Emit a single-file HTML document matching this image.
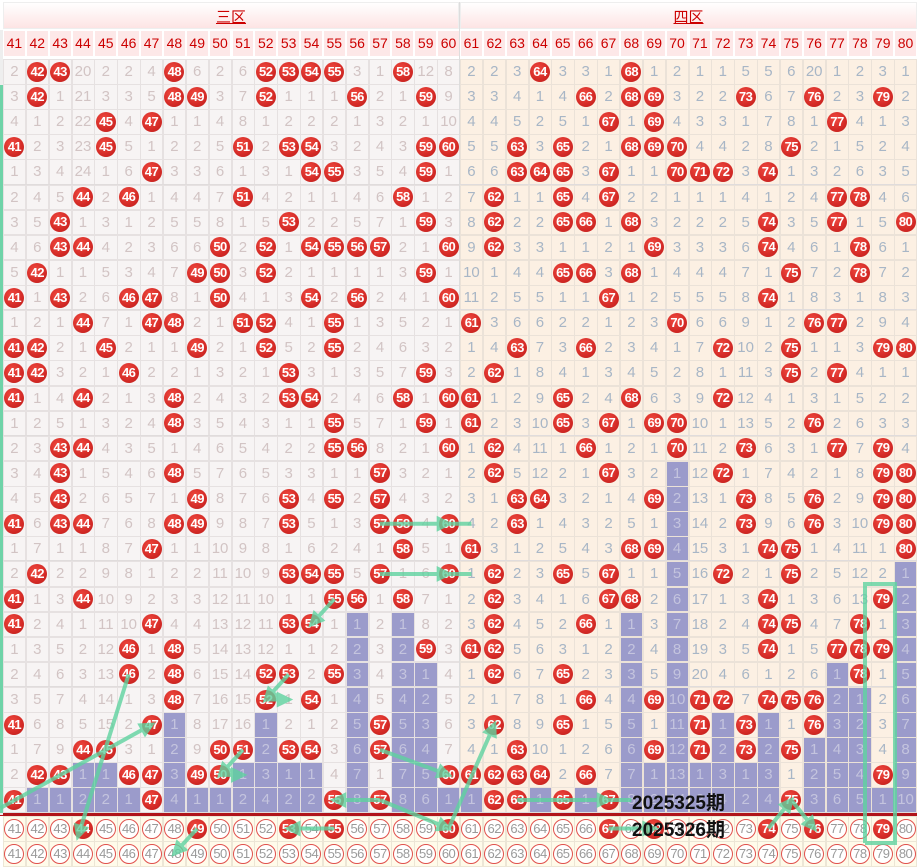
<!DOCTYPE html>
<html><head><meta charset="utf-8">
<style>
body{margin:0;width:917px;height:868px;overflow:hidden;background:#fff;font-family:"Liberation Sans","Noto Sans CJK SC",sans-serif;position:relative}
.c{position:absolute;box-sizing:border-box;text-align:center;}
.b{position:absolute;width:20px;height:20px;border-radius:50%;background:radial-gradient(circle at 40% 35%,#f04a40,#d42a26 60%,#b81c1a);color:#fff;font-weight:bold;font-size:13px;line-height:20px;text-align:center;letter-spacing:-0.5px}
.o{position:absolute;width:20px;height:20px;border-radius:50%;border:1.5px solid #e0504c;box-sizing:border-box;background:#fff;color:#9a9a9a;font-size:13px;line-height:17px;text-align:center;letter-spacing:-0.5px}
</style></head><body>
<div id="g"></div>
<svg id="s" width="917" height="868" style="position:absolute;left:0;top:0"></svg>
<div style="position:absolute;left:632px;top:788px;font:bold 19px 'Liberation Sans','Noto Sans CJK SC',sans-serif;color:#111">2025325期</div>
<div style="position:absolute;left:632px;top:815px;font:bold 19px 'Liberation Sans','Noto Sans CJK SC',sans-serif;color:#111">2025326期</div>
<script>
var D=[
"2 42 43 20 2 2 4 48 6 2 6 52 53 54 55 3 1 58 12 8 2 2 3 64 3 3 1 68 1 2 1 1 5 5 6 20 1 2 3 1",
"3 42 1 21 3 3 5 48 49 3 7 52 1 1 1 56 2 1 59 9 3 3 4 1 4 66 2 68 69 3 2 2 73 6 7 76 2 3 79 2",
"4 1 2 22 45 4 47 1 1 4 8 1 2 2 2 1 3 2 1 10 4 4 5 2 5 1 67 1 69 4 3 3 1 7 8 1 77 4 1 3",
"41 2 3 23 45 5 1 2 2 5 51 2 53 54 3 2 4 3 59 60 5 5 63 3 65 2 1 68 69 70 4 4 2 8 75 2 1 5 2 4",
"1 3 4 24 1 6 47 3 3 6 1 3 1 54 55 3 5 4 59 1 6 6 63 64 65 3 67 1 1 70 71 72 3 74 1 3 2 6 3 5",
"2 4 5 44 2 46 1 4 4 7 51 4 2 1 1 4 6 58 1 2 7 62 1 1 65 4 67 2 2 1 1 1 4 1 2 4 77 78 4 6",
"3 5 43 1 3 1 2 5 5 8 1 5 53 2 2 5 7 1 59 3 8 62 2 2 65 66 1 68 3 2 2 2 5 74 3 5 77 1 5 80",
"4 6 43 44 4 2 3 6 6 50 2 52 1 54 55 56 57 2 1 60 9 62 3 3 1 1 2 1 69 3 3 3 6 74 4 6 1 78 6 1",
"5 42 1 1 5 3 4 7 49 50 3 52 2 1 1 1 1 3 59 1 10 1 4 4 65 66 3 68 1 4 4 4 7 1 75 7 2 78 7 2",
"41 1 43 2 6 46 47 8 1 50 4 1 3 54 2 56 2 4 1 60 11 2 5 5 1 1 67 1 2 5 5 5 8 74 1 8 3 1 8 3",
"1 2 1 44 7 1 47 48 2 1 51 52 4 1 55 1 3 5 2 1 61 3 6 6 2 2 1 2 3 70 6 6 9 1 2 76 77 2 9 4",
"41 42 2 1 45 2 1 1 49 2 1 52 5 2 55 2 4 6 3 2 1 4 63 7 3 66 2 3 4 1 7 72 10 2 75 1 1 3 79 80",
"41 42 3 2 1 46 2 2 1 3 2 1 53 3 1 3 5 7 59 3 2 62 1 8 4 1 3 4 5 2 8 1 11 3 75 2 77 4 1 1",
"41 1 4 44 2 1 3 48 2 4 3 2 53 54 2 4 6 58 1 60 61 1 2 9 65 2 4 68 6 3 9 72 12 4 1 3 1 5 2 2",
"1 2 5 1 3 2 4 48 3 5 4 3 1 1 55 5 7 1 59 1 61 2 3 10 65 3 67 1 69 70 10 1 13 5 2 76 2 6 3 3",
"2 3 43 44 4 3 5 1 4 6 5 4 2 2 55 56 8 2 1 60 1 62 4 11 1 66 1 2 1 70 11 2 73 6 3 1 77 7 79 4",
"3 4 43 1 5 4 6 48 5 7 6 5 3 3 1 1 57 3 2 1 2 62 5 12 2 1 67 3 2 1 12 72 1 7 4 2 1 8 79 80",
"4 5 43 2 6 5 7 1 49 8 7 6 53 4 55 2 57 4 3 2 3 1 63 64 3 2 1 4 69 2 13 1 73 8 5 76 2 9 79 80",
"41 6 43 44 7 6 8 48 49 9 8 7 53 5 1 3 57 58 4 60 4 2 63 1 4 3 2 5 1 3 14 2 73 9 6 76 3 10 79 80",
"1 7 1 1 8 7 47 1 1 10 9 8 1 6 2 4 1 58 5 1 61 3 1 2 5 4 3 68 69 4 15 3 1 74 75 1 4 11 1 80",
"2 42 2 2 9 8 1 2 2 11 10 9 53 54 55 5 57 1 6 60 1 62 2 3 65 5 67 1 1 5 16 72 2 1 75 2 5 12 2 1",
"41 1 3 44 10 9 2 3 3 12 11 10 1 1 55 56 1 58 7 1 2 62 3 4 1 6 67 68 2 6 17 1 3 74 1 3 6 13 79 2",
"41 2 4 1 11 10 47 4 4 13 12 11 53 54 1 1 2 1 8 2 3 62 4 5 2 66 1 1 3 7 18 2 4 74 75 4 7 78 1 3",
"1 3 5 2 12 46 1 48 5 14 13 12 1 1 2 2 3 2 59 3 61 62 5 6 3 1 2 2 4 8 19 3 5 74 1 5 77 78 79 4",
"2 4 6 3 13 46 2 48 6 15 14 52 53 2 55 3 4 3 1 4 1 62 6 7 65 2 3 3 5 9 20 4 6 1 2 6 1 78 1 5",
"3 5 7 4 14 1 3 48 7 16 15 52 1 54 1 4 5 4 2 5 2 1 7 8 1 66 4 4 69 10 71 72 7 74 75 76 2 1 2 6",
"41 6 8 5 15 2 47 1 8 17 16 1 2 1 2 5 57 5 3 6 3 62 8 9 65 1 5 5 1 11 71 1 73 1 1 76 3 2 3 7",
"1 7 9 44 45 3 1 2 9 50 51 2 53 54 3 6 57 6 4 7 4 1 63 10 1 2 6 6 69 12 71 2 73 2 75 1 4 3 4 8",
"2 42 43 1 1 46 47 3 49 50 1 3 1 1 4 7 1 7 5 60 61 62 63 64 2 66 7 7 1 13 1 3 1 3 1 2 5 4 79 9",
"41 1 1 2 2 1 47 4 1 1 2 4 2 2 55 8 57 8 6 1 1 62 63 1 65 1 67 8 2 14 2 4 2 4 75 3 6 5 1 10"];
var W=22.85,X0=3,Y0=59,H=25.12,h='';
function cx(n){return X0+(n-41)*W+W/2}
function cy(r){return Y0+r*H+H/2}
var rows=D.map(function(s){return s.split(' ')});
var pur=[];for(var r=0;r<30;r++)pur.push([]);
for(var c=0;c<40;c++){for(var r=29;r>=0;r--){if(+rows[r][c]==c+41)break;pur[r][c]=1;}}
// header row 0
h+='<div class="c" style="left:3px;top:2px;width:456px;height:27px;background:linear-gradient(#fff,#fde4e4);border:1px solid #eee"></div>';
h+='<div class="c" style="left:460px;top:2px;width:457px;height:27px;background:linear-gradient(#fff,#fde4e4);border:1px solid #eee"></div>';
h+='<div class="c" style="left:3px;top:6px;width:456px;font-size:15px;color:#c00"><u>三区</u></div>';
h+='<div class="c" style="left:460px;top:6px;width:457px;font-size:15px;color:#c00"><u>四区</u></div>';
for(var c=0;c<40;c++){var x=X0+c*W;
 h+='<div class="c" style="left:'+(x+1)+'px;top:31px;width:'+(W-2)+'px;height:25px;background:#fde8e8;color:#c00;font-size:14px;line-height:25px">'+(c+41)+'</div>';}
for(var r=0;r<30;r++){var y=Y0+r*H;
 for(var c=0;c<40;c++){var x=X0+c*W,v=rows[r][c],n=c+41,R=c>=20;
  var bg=pur[r][c]?'#9b9bcb':(R?'#fcf0e3':'#f7f4f4');
  h+='<div class="c" style="left:'+x+'px;top:'+y+'px;width:'+(W+0.5)+'px;height:'+(H+0.5)+'px;background:'+bg+';border:1px solid '+(R?'#ebe2d8':'#e6e1e1')+'"></div>';
  if(+v==n) h+='<div class="b" style="left:'+(cx(n)-10)+'px;top:'+(cy(r)-10)+'px">'+v+'</div>';
  else h+='<div class="c" style="left:'+x+'px;top:'+y+'px;width:'+W+'px;line-height:'+H+'px;font-size:15px;color:'+(pur[r][c]?'#c4c4de':(R?'#a8b6c6':'#d2c4c4'))+'">'+v+'</div>';
 }
 if(r%5==4)h+='<div class="c" style="left:3px;top:'+(y+H-1)+'px;width:914px;height:2px;background:#e0dcdc"></div>';
}
h+='<div class="c" style="left:0;top:813px;width:917px;height:3px;background:#b0141a"></div>';
var F=[44,49,53,55,60,67,69,74,76,79];
for(var k=0;k<2;k++){var y=816+k*25;
 for(var c=0;c<40;c++){var x=X0+c*W,n=c+41;
  h+='<div class="c" style="left:'+x+'px;top:'+y+'px;width:'+(W+0.5)+'px;height:25.5px;background:#fffbea;border:1px solid #ece6d6"></div>';
  if(k==0&&F.indexOf(n)>=0)h+='<div class="b" style="left:'+(cx(n)-10)+'px;top:'+(y+2.5)+'px">'+n+'</div>';
  else h+='<div class="o" style="left:'+(cx(n)-10)+'px;top:'+(y+2.5)+'px">'+n+'</div>';
 }}
h+='<div class="c" style="left:0;top:30px;width:3px;height:785px;background:#eee"></div>';
h+='<div class="c" style="left:0;top:85px;width:3px;height:728px;background:#6fd3a8"></div>';
h+='<div class="c" style="left:458.5px;top:2px;width:1.5px;height:811px;background:#ddd"></div>';
document.getElementById('g').innerHTML=h;
var f1=828.5,f2=853.5,S='';
function L(x1,y1,x2,y2,arrow){S+='<line x1="'+x1+'" y1="'+y1+'" x2="'+x2+'" y2="'+y2+'"/>';
 if(arrow){var a=Math.atan2(y2-y1,x2-x1),s=11,p=[[x2,y2],[x2-s*Math.cos(a-0.45),y2-s*Math.sin(a-0.45)],[x2-s*Math.cos(a+0.45),y2-s*Math.sin(a+0.45)]];
 S+='<polygon points="'+p.map(function(q){return q.join(',')}).join(' ')+'"/>';}}
L(cx(57),cy(18),cx(60),cy(18),1);L(cx(60),cy(18),cx(61),cy(18),0);
L(cx(57),cy(20),cx(60),cy(20),1);L(cx(60),cy(20),cx(61),cy(20),0);
L(cx(55),cy(21),cx(54),cy(22),1);
L(cx(53),cy(24),cx(52),cy(25),1);L(cx(52),cy(25),cx(53),cy(25),1);
L(cx(51),cy(27),cx(50),cy(28),1);L(cx(50),cy(28),cx(51),cy(28),1);
L(cx(41)-14,cy(29)+8,cx(47),cy(26),1);
L(cx(46),cy(24),cx(44)-5,f1+8,1);
L(cx(57),cy(29),cx(55),cy(29),1);
L(cx(57),cy(27),cx(60),cy(28),1);
L(cx(57),cy(29),cx(60),f1,1);
L(cx(60),f1,cx(62),cy(26),1);
L(cx(63),cy(29),cx(67),cy(29),1);L(cx(67),cy(29),cx(68),cy(29),0);
L(cx(67),f1,cx(69),f1,1);
L(cx(74),f1,cx(75),cy(29),1);L(cx(75),cy(29),cx(76),f1,1);
L(cx(55),f1,cx(53),f1,1);
L(cx(49),f1,cx(48),f2,1);
S+='<polyline fill="none" points="865,843 865,584 895,584 895,843 865,843"/>';
document.getElementById('s').innerHTML='<g stroke="#5fd3a0" stroke-width="4" fill="#5fd3a0" opacity="0.8">'+S+'</g>';
</script>
</body></html>
